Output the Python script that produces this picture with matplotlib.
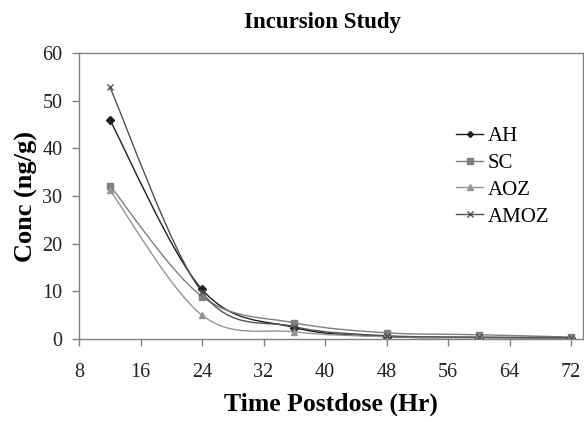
import numpy as np
import matplotlib
matplotlib.use("Agg")
import matplotlib.pyplot as plt
from matplotlib.path import Path
from matplotlib.patches import PathPatch
from matplotlib.lines import Line2D

# Datos
hours = [12, 24, 36, 48, 60, 72]
ah = [46.0, 10.4, 2.4, 0.5, 0.3, 0.2]
sc = [32.2, 8.9, 3.4, 1.3, 0.9, 0.4]
aoz = [31.3, 5.0, 1.5, 0.5, 0.3, 0.2]
amoz = [52.9, 9.8, 2.6, 0.7, 0.4, 0.3]

series = [
    ("AH", ah, "#1e1e1e", "D", 4),
    ("SC", sc, "#7f7f7f", "s", 5),
    ("AOZ", aoz, "#959595", "^", 5),
    ("AMOZ", amoz, "#505050", "x", 5),
]

plt.rcParams["font.family"] = ["Liberation Serif", "DejaVu Serif"]


def smooth_path(x, y):
    # curva suavizada estilo Excel (Catmull-Rom -> Bezier)
    p = np.column_stack([x, y]).astype(float)
    verts = [p[0]]
    codes = [Path.MOVETO]
    n = len(p)
    for i in range(n - 1):
        p0 = p[i - 1] if i > 0 else p[i]
        p3 = p[i + 2] if i + 2 < n else p[i + 1]
        c1 = p[i] + (p[i + 1] - p0) / 6.0
        c2 = p[i + 1] - (p3 - p[i]) / 6.0
        verts += [c1, c2, p[i + 1]]
        codes += [Path.CURVE4] * 3
    return Path(verts, codes)


fig = plt.figure(figsize=(5.84, 4.22), dpi=100)
ax = fig.add_axes([79 / 584, 1 - 339 / 422, 504 / 584, 286 / 422])

handles = []
for name, vals, col, mk, ms in series:
    ax.add_patch(PathPatch(smooth_path(hours, vals), facecolor="none",
                           edgecolor=col, lw=1.0))
    ax.plot(hours, vals, linestyle="none", marker=mk, color=col,
            markersize=ms, markeredgewidth=1.0)
    handles.append(Line2D([], [], color=col, lw=1.0, marker=mk,
                          markersize=ms - 1, label=name))

ax.set_xlim(8, 8 + 504 / 61.5 * 8)
ax.set_ylim(0, 60)
ax.set_xticks(np.arange(8, 73, 8))
ax.set_yticks(np.arange(0, 61, 10))

for s in ax.spines.values():
    s.set_color("#808080")
    s.set_linewidth(1.0)
ax.tick_params(direction="out", length=5, width=1, color="#808080",
               labelsize=14.5, labelcolor="#222222")
ax.tick_params(axis="x", pad=12)
ax.tick_params(axis="y", pad=7)

ax.set_xlabel("Time Postdose (Hr)", fontsize=18.5, fontweight="bold",
              labelpad=8)
ax.set_ylabel("Conc (ng/g)", fontsize=19, fontweight="bold", labelpad=3)
fig.text(0.552, 0.947, "Incursion Study", ha="center", va="center",
         fontsize=16.5, fontweight="bold")

ax.legend(handles=handles, loc="upper left",
          bbox_to_anchor=(448 / 584, 1 - 118 / 422),
          bbox_transform=fig.transFigure, frameon=False, fontsize=15,
          handlelength=1.3, handletextpad=0.2, labelspacing=0.35,
          borderaxespad=0)

fig.savefig("out.png", dpi=100)
